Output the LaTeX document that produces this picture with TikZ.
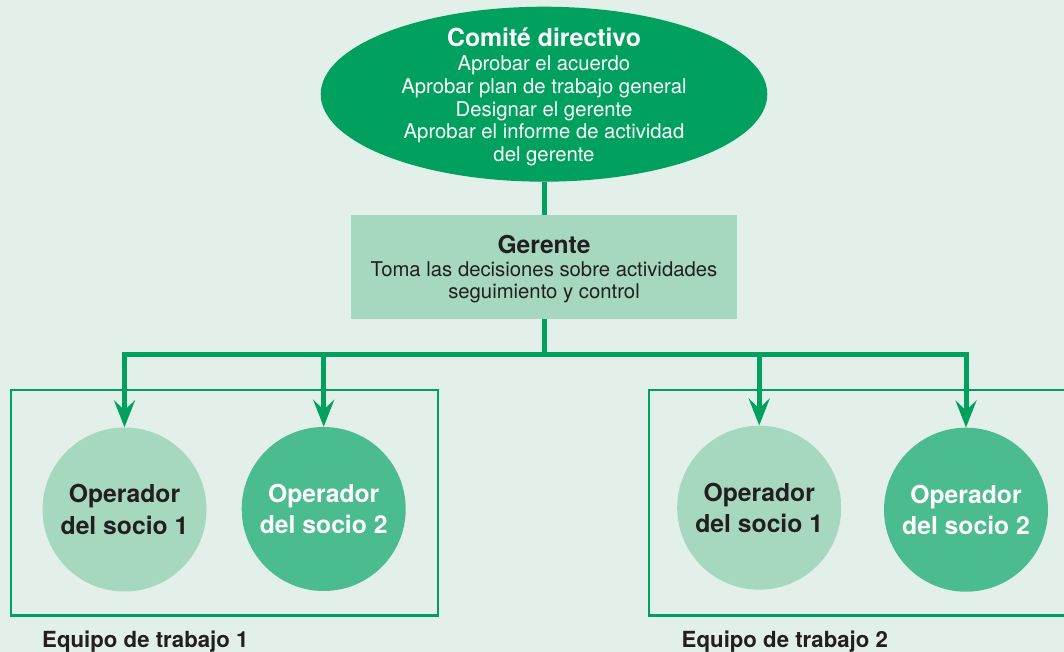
\documentclass[tikz,border=0pt]{standalone}
\usepackage{fontspec}
\setmainfont{TeX Gyre Heros}
\usetikzlibrary{shapes.geometric,arrows.meta}
\definecolor{bg}{RGB}{226,240,233}
\definecolor{dkgreen}{RGB}{0,161,95}
\definecolor{ltgreen}{RGB}{166,215,191}
\definecolor{mdgreen}{RGB}{75,188,143}
\definecolor{txtdark}{RGB}{35,31,32}
\begin{document}
\begin{tikzpicture}[x=1pt,y=-1pt,
  conn/.style={draw=dkgreen, line width=5pt},
  arr/.style={conn, -{Stealth[length=27pt,width=21pt,inset=10pt]}},
  teamframe/.style={draw=dkgreen, line width=2.3pt},
  opone/.style={circle, fill=ltgreen, minimum size=164pt, inner sep=0pt, align=center,
    text=txtdark, font=\fontsize{24.7}{31.3}\selectfont\bfseries},
  optwo/.style={opone, fill=mdgreen, text=white},
  bodytext/.style={align=center, inner sep=0pt, font=\fontsize{20.3}{22.6}\selectfont},
  teamlabel/.style={anchor=base west, inner sep=0pt, text=txtdark,
    font=\fontsize{22.2}{26}\selectfont\bfseries}]
\fill[bg] (0,0) rectangle (1064,652);
\useasboundingbox (0,0) rectangle (1064,652);
\begin{scope}
\clip (0,0) rectangle (1064,652);
% frames
\draw[teamframe] (11,389.7) rectangle (438,615.5);
\draw[teamframe] (648.7,389.7) rectangle (1075,615.5);
% top ellipse
\node[ellipse, fill=dkgreen, minimum width=446.6pt, minimum height=175pt, inner sep=0pt] (comite) at (544,94.2) {};
\node[bodytext, text=white] (comiteTxt) at (544,96.8)
  {{\fontsize{24.8}{24.8}\selectfont\bfseries Comité directivo}\\[1.7pt]
   Aprobar el acuerdo\\
   Aprobar plan de trabajo general\\
   Designar el gerente\\
   Aprobar el informe de actividad\\
   del gerente};
% gerente box
\node[rectangle, fill=ltgreen, minimum width=386pt, minimum height=104pt, inner sep=0pt] (gerente) at (544,267) {};
\node[bodytext, text=txtdark] (gerenteTxt) at (544,269.2)
  {{\fontsize{24.6}{24.6}\selectfont\bfseries Gerente}\\[0pt]
   Toma las decisiones sobre actividades\\
   seguimiento y control};
% operators
\node[opone] (op11) at (124.5,509.5) {Operador\\del socio 1};
\node[optwo] (op12) at (323.7,509) {Operador\\del socio 2};
\node[opone] (op21) at (759.2,507.7) {Operador\\del socio 1};
\node[optwo] (op22) at (966,509.7) {Operador\\del socio 2};
% connectors
\coordinate (hub) at (544,354.5);
\draw[conn] (comite.south) -- (gerente.north);
\draw[conn] (gerente.south) -- (hub);
\draw[conn, line cap=rect] (op11.north |- hub) -- (op22.north |- hub);
\draw[arr] (op11.north |- hub) -- (op11.north);
\draw[arr] (op12.north |- hub) -- (op12.north);
\draw[arr] (op21.north |- hub) -- (op21.north);
\draw[arr] (op22.north |- hub) -- (op22.north);
% labels
\node[teamlabel] (team1) at (42,647) {Equipo de trabajo 1};
\node[teamlabel] (team2) at (681.5,647) {Equipo de trabajo 2};
\end{scope}
\end{tikzpicture}
\end{document}
